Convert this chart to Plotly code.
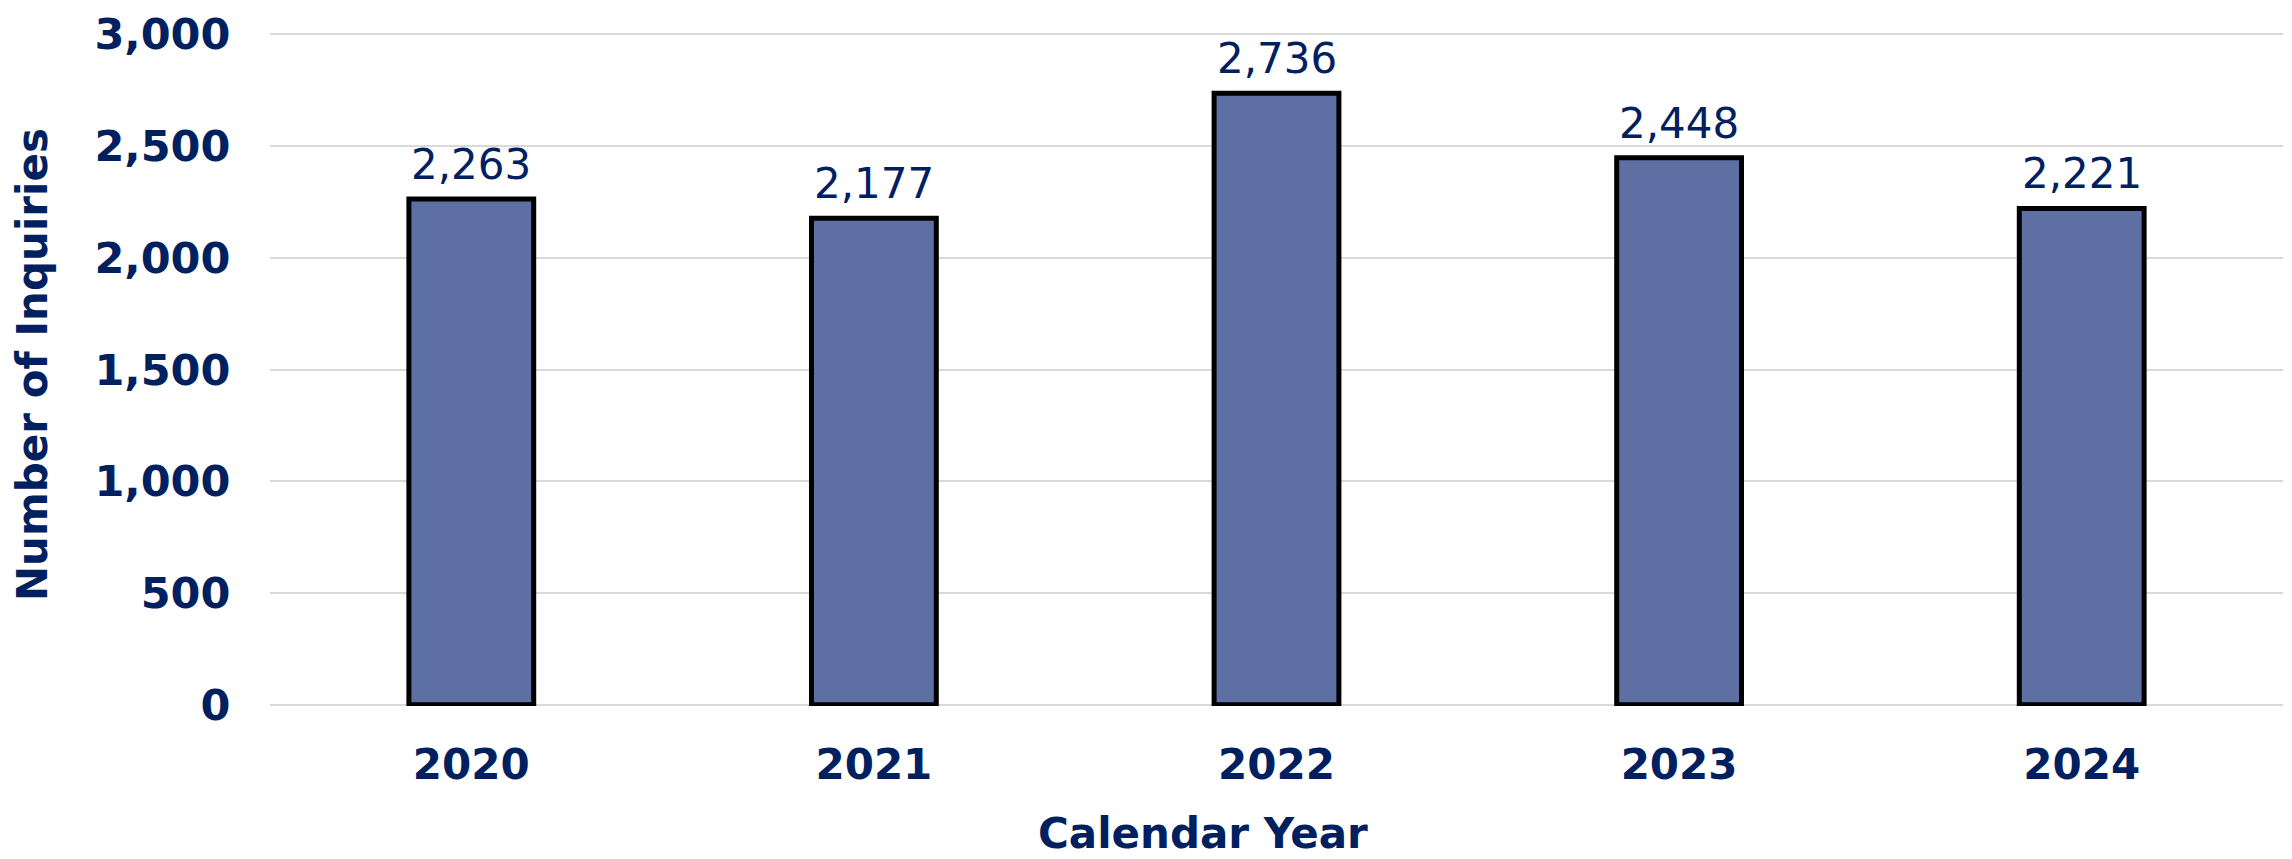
import plotly.graph_objects as go

# Annual inquiry counts
years = ["2020", "2021", "2022", "2023", "2024"]
inquiries = [2263, 2177, 2736, 2448, 2221]
y_ticks = [0, 500, 1000, 1500, 2000, 2500, 3000]

NAVY = "#002060"
BAR_FILL = "#5E6FA3"
FONT = "DejaVu Sans, Verdana, sans-serif"

# plot area in pixels
PLOT_TOP = 27
PLOT_BOTTOM = 706
PLOT_H = PLOT_BOTTOM - PLOT_TOP
Y_MIN, Y_MAX = -6, 3006  # small padding so the 0 and 3,000 gridlines are kept

fig = go.Figure()
fig.add_trace(go.Bar(
    x=years,
    y=inquiries,
    width=0.31,
    marker=dict(color=BAR_FILL, line=dict(color="#000000", width=5)),
    hoverinfo="x+y",
))

# value labels above each bar (category index used for x)
for i, v in enumerate(inquiries):
    fig.add_annotation(
        x=i, y=v, xref="x", yref="y",
        text=f"{v:,}", showarrow=False,
        xanchor="center", yanchor="bottom", yshift=8,
        font=dict(family=FONT, size=42, color=NAVY),
    )

# x-axis title
fig.add_annotation(
    x=0.4635, xref="paper",
    y=-(835 - PLOT_BOTTOM) / PLOT_H, yref="paper",
    text="<b>Calendar Year</b>", showarrow=False,
    xanchor="center", yanchor="middle",
    font=dict(family=FONT, size=42, color=NAVY),
)
# y-axis title
fig.add_annotation(
    x=(32 - 270) / 2013, xref="paper",
    y=(PLOT_BOTTOM - 362) / PLOT_H, yref="paper",
    text="<b>Number of Inquiries</b>", showarrow=False, textangle=-90,
    xanchor="center", yanchor="middle",
    font=dict(family=FONT, size=42, color=NAVY),
)

fig.update_layout(
    width=2292, height=859,
    margin=dict(l=270, r=9, t=PLOT_TOP, b=859 - PLOT_BOTTOM, pad=0),
    paper_bgcolor="white", plot_bgcolor="white",
    showlegend=False,
    font=dict(family=FONT, color=NAVY),
    xaxis=dict(
        type="category", range=[-0.5, 4.5],
        showgrid=False, showline=False, zeroline=False,
        ticks="outside", ticklen=22, tickcolor="rgba(0,0,0,0)",
        tickfont=dict(family=FONT, size=42, color=NAVY, weight="bold"),
    ),
    yaxis=dict(
        range=[Y_MIN, Y_MAX], tickvals=y_ticks,
        tickformat=",d",
        showgrid=True, gridcolor="#D9D9D9", gridwidth=2,
        zeroline=False, showline=False,
        ticks="outside", ticklen=30, tickcolor="rgba(0,0,0,0)",
        tickfont=dict(family=FONT, size=43, color=NAVY, weight="bold"),
    ),
)

fig.write_html("out.html")
